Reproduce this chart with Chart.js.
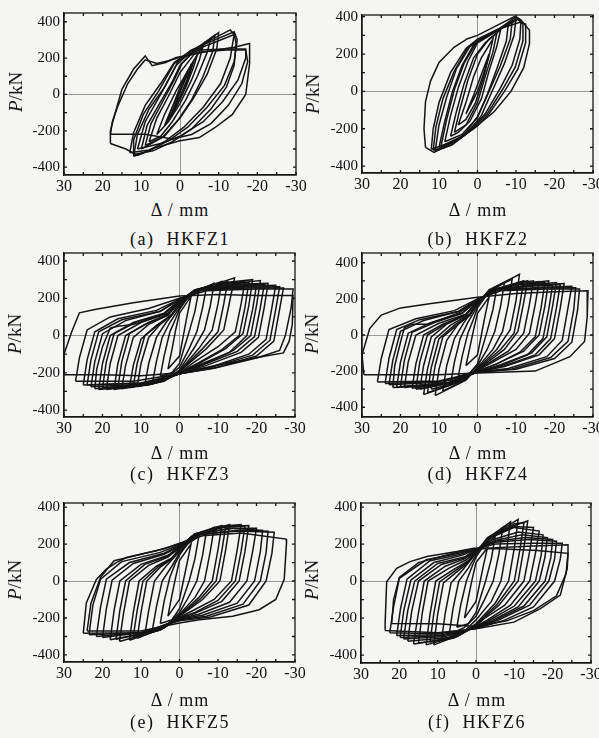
<!DOCTYPE html>
<html>
<head>
<meta charset="utf-8">
<script src="https://cdn.jsdelivr.net/npm/chart.js@4.4.1/dist/chart.umd.min.js"></script>
<style>
  body { margin: 0; background: #f5f5f4; width: 599px; height: 738px; position: relative; overflow: hidden;
         font-family: "Liberation Serif", "Times New Roman", serif; color: #111; }
  canvas { position: absolute; }
  .lbl { position: absolute; white-space: pre; transform: translate(-50%, -50%); }
  .ylab { font-size: 19px; transform: translate(-50%, -50%) rotate(-90deg); }
  .xlab { font-size: 18px; letter-spacing: 1px; }
  .cap { font-size: 18px; letter-spacing: 1.5px; }
</style>
</head>
<body>
<script>
const specimens = ['HKFZ1', 'HKFZ2', 'HKFZ3', 'HKFZ4', 'HKFZ5', 'HKFZ6'];
const letters = ['a', 'b', 'c', 'd', 'e', 'f'];
const xTicks = [30, 20, 10, 0, -10, -20, -30];
const yTicks = [400, 200, 0, -200, -400];

// hysteresis loops, [displacement mm, load kN]
const hkfz1 = [
  [[2.5,-120],[1,-40],[-1,70],[-3,170],[-2,90],[0,-10],[1.5,-80],[2.5,-120]],
  [[3.5,-150],[2,-70],[0,20],[-2,110],[-3.5,180],[-2.5,110],[-1,20],[1,-70],[3.5,-150]],
  [[4,-170],[2,-70],[0,40],[-2,130],[-4.5,220],[-3.5,150],[-1.5,40],[1,-70],[4,-170]],
  [[6,-220],[4,-110],[1,20],[-2,130],[-6,270],[-5,190],[-3,80],[0,-50],[3,-150],[6,-220]],
  [[8,-260],[6,-130],[3,-10],[0,120],[-4,230],[-8,310],[-7,230],[-4.5,100],[-1.5,-30],[2,-150],[5,-230],[8,-260]],
  [[9,-280],[7.5,-160],[4.5,-40],[1.5,80],[-0.5,170],[-4.5,255],[-9,325],[-8.5,240],[-6,100],[-3,-30],[0.5,-140],[4.5,-235],[9,-280]],
  [[10,-300],[8.5,-170],[5,-40],[2,70],[0,160],[-4,250],[-10,340],[-9.5,250],[-7,110],[-3.5,-20],[0,-130],[4,-230],[10,-300]],
  [[12,-340],[11,-220],[8,-80],[4,40],[1,160],[-3,240],[-8,300],[-13,355],[-14,330],[-13,200],[-10.5,60],[-6,-70],[-1,-180],[4,-260],[8,-310],[12,-340]],
  [[13,-320],[12,-210],[9,-60],[5,60],[1.5,175],[-3,245],[-9,300],[-14,345],[-14.8,300],[-14,180],[-11.5,50],[-7,-70],[-2,-180],[3,-255],[8,-305],[13,-320]],
  [[12,-330],[12,-250],[9.5,-110],[5.5,20],[1.5,170],[-4,245],[-10,295],[-14,330],[-14.5,280],[-14,160],[-12,40],[-8,-80],[-3,-190],[2,-260],[7,-310],[12,-330]],
  [[11,-300],[9,-150],[5,0],[2,120],[0,200],[-5,245],[-12,250],[-17,250],[-17,200],[-15,80],[-11,-40],[-6,-150],[0,-230],[5,-270],[11,-300]],
  [[18,-270],[18,-200],[17,-120],[15,30],[12,140],[9,212],[7.2,158],[3.7,176],[1,203],[-2,215],[-8,240],[-14,260],[-18,280],[-18,170],[-17,0],[-13.5,-111],[-9,-183],[-5,-237],[0,-255],[6,-290],[11,-335],[14,-300],[18,-270]],
  [[18,-219],[17.5,-150],[16,-60],[13.5,60],[11,140],[9,190],[6,170],[3,185],[0,205],[-6,235],[-12,245],[-17,245],[-17.5,180],[-16,60],[-12.5,-60],[-8,-160],[-3,-220],[2,-245],[9,-219],[18,-219]]
];
const hkfz2 = [
  [[3,-120],[1,-20],[-1,90],[-3,200],[-2,120],[0,0],[2,-80],[3,-120]],
  [[5,-180],[3,-60],[1,80],[-1,180],[-4,280],[-3,190],[-1.5,70],[0.5,-60],[3,-150],[5,-180]],
  [[6,-220],[4.5,-90],[2.5,60],[0,200],[-3,280],[-5,310],[-4,210],[-2,80],[0,-60],[3,-180],[6,-220]],
  [[7,-240],[5.5,-110],[3.5,40],[1,180],[-2,260],[-6,330],[-5,240],[-3,110],[-1,-40],[2,-160],[5,-220],[7,-240]],
  [[8.5,-270],[7,-130],[5,20],[2.5,160],[0,260],[-4,310],[-8,360],[-7.5,270],[-5,120],[-2.5,-20],[0,-140],[4,-230],[8.5,-270]],
  [[9.5,-295],[8,-150],[6,10],[3.5,150],[0.5,255],[-3,305],[-9,375],[-8.5,280],[-6,140],[-3,0],[0,-135],[3.5,-235],[9.5,-295]],
  [[10,-300],[8.5,-160],[6.5,0],[4,140],[1,250],[-3,300],[-8,360],[-10,390],[-9.5,300],[-7,150],[-4,10],[-1,-130],[3,-230],[7,-280],[10,-300]],
  [[11,-320],[10,-180],[8,-30],[5.5,120],[2,240],[-2,290],[-6,340],[-10,400],[-11.3,382],[-11,280],[-9,140],[-6,20],[-2,-120],[2,-210],[7,-290],[11,-320]],
  [[11.5,-315],[10.8,-190],[9,-40],[6,110],[2.5,235],[-1,285],[-6,335],[-10.5,385],[-11.8,360],[-11.8,270],[-9.8,130],[-6.5,10],[-2.5,-120],[1.5,-205],[6.5,-285],[11.5,-315]],
  [[12,-310],[11.5,-200],[10,-60],[7,100],[3,230],[0,280],[-5,330],[-11,370],[-12.5,360],[-12.5,260],[-10.5,120],[-7,0],[-3,-120],[0,-185],[5,-260],[12,-310]],
  [[13.5,-300],[13.9,-200],[13.5,-55],[12.2,55],[10,155],[6.1,236],[2.6,282],[0,300],[-5.2,355],[-9.6,400],[-11.3,382],[-13.5,327],[-13.5,255],[-12,127],[-8.7,0],[-4.3,-109],[0,-182],[5.2,-255],[9.6,-309],[11.3,-327],[13.5,-300]]
];
const hkfz3 = [
  [[3,-180],[2,-80],[1,30],[0,120],[-3,210],[-2,110],[-1,0],[0,-110],[3,-180]],
  [[5,-220],[4,-110],[2.5,20],[1,90],[0,140],[-2,200],[-5,240],[-4,130],[-2.5,20],[-1,-80],[0,-150],[2,-200],[5,-220]],
  [[7,-250],[6,-140],[4.5,-10],[2.5,70],[0,150],[-3,220],[-7,260],[-6,150],[-4.5,20],[-2.5,-70],[0,-170],[3,-220],[7,-250]],
  [[9,-265],[8,-150],[6,-10],[3.5,70],[0,160],[-3,225],[-9,280],[-8,160],[-6.5,30],[-4,-60],[0,-185],[3,-230],[9,-265]],
  [[11,-275],[10,-150],[8,-10],[5,60],[2,110],[0,170],[-3,230],[-11,290],[-10,170],[-8.5,30],[-5,-70],[0,-190],[4,-240],[11,-275]],
  [[12,-270],[11,-150],[9,0],[5,65],[2,115],[0,172],[-4,235],[-12.5,290],[-11.5,170],[-10,20],[-6,-70],[0,-192],[4,-242],[12,-270]],
  [[13,-280],[12,-160],[10,-20],[6,55],[2,110],[0,175],[-4,240],[-14.3,310],[-13,180],[-11.5,30],[-7,-70],[-3,-140],[0,-195],[4,-245],[13,-280]],
  [[15,-285],[14,-160],[12,-10],[8,60],[3,110],[0,180],[-4,245],[-10,280],[-17,290],[-16,170],[-14.5,20],[-10,-60],[-4,-140],[0,-200],[5,-250],[15,-285]],
  [[16,-280],[15,-140],[13,10],[8,70],[3,115],[0,183],[-4,245],[-11,275],[-18,285],[-17,150],[-15.5,0],[-11,-75],[-5,-145],[0,-200],[6,-250],[16,-280]],
  [[17,-290],[16,-150],[14,0],[9,60],[3,110],[0,185],[-4,245],[-12,285],[-19,300],[-18,160],[-16.5,10],[-12,-70],[-5,-150],[0,-200],[6,-255],[17,-290]],
  [[19,-290],[18,-150],[16,0],[10,70],[3,120],[0,190],[-5,250],[-14,280],[-21,295],[-20,160],[-18.5,0],[-14,-80],[-6,-155],[0,-205],[7,-260],[19,-290]],
  [[20,-280],[19,-140],[17,10],[11,75],[3,120],[0,188],[-5,245],[-14,270],[-22,275],[-21,150],[-19.5,-5],[-15,-85],[-6,-158],[0,-203],[7,-258],[20,-280]],
  [[21,-290],[20,-150],[18,0],[12,70],[4,120],[0,190],[-5,250],[-15,275],[-23,280],[-22,150],[-20.5,-10],[-16,-90],[-7,-160],[0,-205],[8,-265],[21,-290]],
  [[22,-285],[21.5,-180],[20,-60],[18,40],[16,50],[12,60],[4,115],[0,186],[-5,248],[-14,265],[-20,270],[-19,140],[-17.5,0],[-13,-90],[-6,-150],[0,-200],[8,-262],[22,-285]],
  [[23,-275],[22,-140],[20,10],[14,80],[5,130],[0,195],[-6,250],[-17,265],[-25,270],[-24,150],[-22.5,-20],[-18,-100],[-8,-170],[0,-205],[9,-260],[23,-275]],
  [[24,-265],[23,-130],[21,20],[15,85],[5,130],[0,193],[-6,245],[-17,260],[-26,262],[-25,140],[-23.5,-25],[-19,-105],[-8,-172],[0,-205],[9,-255],[24,-265]],
  [[25,-265],[24,-130],[22,20],[16,90],[6,135],[0,195],[-6,245],[-18,255],[-27,255],[-26,140],[-24.5,-30],[-20,-110],[-9,-175],[0,-205],[10,-255],[25,-265]],
  [[27,-245],[26,-120],[24,30],[18,100],[8,145],[0,200],[-7,240],[-20,250],[-29.5,250],[-29,150],[-27.5,0],[-26,-80],[-20,-120],[-10,-170],[0,-205],[12,-245],[27,-245]],
  [[30,-210],[30,-100],[28,20],[26,122],[22,140],[12,176],[0,212],[-10,220],[-20,215],[-29.5,215],[-29.3,60],[-28.5,-30],[-27,-93],[-22,-111],[-12,-150],[0,-200],[10,-215],[20,-210],[30,-210]]
];
const hkfz4 = [
  [[3,-170],[2,-70],[1,30],[0,120],[-3,210],[-2,110],[-1,0],[0,-110],[3,-170]],
  [[5,-230],[4,-120],[2.5,10],[1,90],[0,150],[-2,210],[-5,260],[-4,140],[-2.5,20],[-1,-90],[0,-160],[2,-210],[5,-230]],
  [[7,-270],[6,-150],[4.5,-20],[2.5,70],[0,160],[-3,240],[-7,290],[-6,160],[-4.5,20],[-2.5,-80],[0,-170],[3,-230],[7,-270]],
  [[9,-310],[8,-170],[6,-20],[3.5,70],[0,170],[-3,245],[-9,310],[-8,170],[-6.5,20],[-4,-80],[0,-180],[3,-250],[9,-310]],
  [[11,-336],[10,-190],[8,-30],[5,60],[2,110],[0,175],[-3,250],[-10.9,336],[-10,190],[-8.5,30],[-5,-80],[0,-185],[4,-260],[11,-336]],
  [[12,-300],[11,-170],[9,-10],[5,60],[2,115],[0,178],[-4,250],[-12,300],[-11,170],[-9.5,10],[-6,-80],[0,-188],[4,-255],[12,-300]],
  [[13,-320],[12,-180],[10,-20],[6,55],[2,110],[0,180],[-4,250],[-13,300],[-12,180],[-10.5,20],[-7,-80],[-3,-145],[0,-190],[4,-255],[13,-320]],
  [[14,-330],[13,-190],[11,-20],[7,55],[2,115],[0,182],[-4,250],[-11,290],[-14.5,300],[-13.5,170],[-12,10],[-8,-90],[-3,-155],[0,-192],[5,-262],[14,-330]],
  [[15,-300],[14,-170],[12,-10],[8,60],[3,110],[0,185],[-4,250],[-10,280],[-16,295],[-15,170],[-13.5,10],[-10,-80],[-4,-150],[0,-195],[5,-255],[15,-300]],
  [[16,-300],[15,-150],[13,0],[8,65],[3,115],[0,185],[-4,250],[-11,280],[-17.5,290],[-16.5,150],[-15,-10],[-11,-95],[-5,-160],[0,-200],[6,-262],[16,-300]],
  [[17,-295],[16,-160],[14,0],[9,60],[3,110],[0,190],[-4,250],[-12,285],[-18.5,300],[-17.5,160],[-16,0],[-12,-90],[-5,-160],[0,-200],[6,-260],[17,-295]],
  [[19,-290],[18,-150],[16,0],[10,65],[3,115],[0,190],[-5,250],[-14,280],[-20.5,290],[-19.5,160],[-18,-10],[-14,-100],[-6,-165],[0,-205],[7,-265],[19,-290]],
  [[20,-285],[19,-140],[17,15],[11,70],[4,120],[0,192],[-5,250],[-14,275],[-21.5,280],[-20.5,150],[-19,-20],[-15,-110],[-7,-170],[0,-205],[8,-268],[20,-285]],
  [[21,-290],[20,-150],[18,10],[12,70],[4,120],[0,195],[-5,250],[-15,275],[-22.5,285],[-21.5,150],[-20,-20],[-16,-110],[-7,-175],[0,-205],[8,-265],[21,-290]],
  [[22,-290],[21.5,-170],[20,-40],[19,40],[17,60],[13,60],[5,120],[0,190],[-5,250],[-13,270],[-19.5,275],[-18.5,140],[-17,-20],[-13,-110],[-6,-170],[0,-205],[8,-270],[22,-290]],
  [[23,-275],[22,-140],[20,20],[14,80],[5,130],[0,195],[-6,250],[-17,265],[-24.5,270],[-23.5,150],[-22,-30],[-18,-120],[-8,-185],[0,-205],[9,-260],[23,-275]],
  [[24,-268],[23,-130],[21,30],[15,85],[5,130],[0,198],[-6,248],[-17,260],[-25.5,262],[-25,140],[-23.5,-35],[-19,-125],[-9,-188],[0,-207],[10,-258],[24,-268]],
  [[26,-260],[25,-130],[23,30],[16,90],[6,135],[0,200],[-6,245],[-18,255],[-26.5,255],[-26,140],[-24.5,-40],[-20,-130],[-10,-190],[0,-205],[10,-255],[26,-260]],
  [[29.5,-220],[30,-110],[28,36],[25,110],[20,150],[12,175],[0,209],[-10,230],[-20,240],[-28.7,245],[-28.5,100],[-27.8,-36],[-24,-120],[-15,-200],[0,-210],[10,-220],[20,-220],[29.5,-220]]
];
const hkfz5 = [
  [[3,-190],[2,-80],[1,20],[0,110],[-3,200],[-2,100],[-1,0],[0,-100],[3,-190]],
  [[5,-230],[4,-110],[2.5,20],[1,100],[0,140],[-2,200],[-5,240],[-4,120],[-2.5,0],[-1,-90],[0,-150],[2,-210],[5,-230]],
  [[7,-260],[6,-140],[4.5,0],[2,80],[0,150],[-3,220],[-7,270],[-6,140],[-4.5,0],[-2,-100],[0,-170],[3,-230],[7,-260]],
  [[9,-290],[8,-160],[6.5,0],[3.5,80],[0,160],[-3,230],[-9,290],[-8,160],[-6.5,0],[-4,-90],[0,-180],[3,-240],[9,-290]],
  [[11,-310],[10,-170],[8.5,0],[5,75],[2,120],[0,170],[-3,240],[-11,300],[-10,170],[-8.5,0],[-5,-90],[0,-185],[4,-250],[11,-310]],
  [[12,-300],[11,-160],[9.5,0],[5.5,78],[2,120],[0,172],[-3.5,245],[-12,295],[-11,165],[-9.5,0],[-5.5,-95],[0,-188],[4,-250],[12,-300]],
  [[13,-320],[12,-170],[10.5,0],[6,80],[2,125],[0,175],[-4,250],[-13,305],[-12,170],[-10.5,0],[-6,-100],[-2,-160],[0,-190],[4,-255],[13,-320]],
  [[15.6,-327],[14.5,-170],[13,0],[8,85],[3,130],[0,180],[-4,255],[-10,295],[-16,305],[-15,170],[-13.5,0],[-9,-100],[-3,-165],[0,-195],[5,-265],[15.6,-327]],
  [[16.5,-315],[15.5,-160],[14,0],[9,90],[3,135],[0,182],[-4,255],[-11,290],[-17,298],[-16,160],[-14.5,0],[-10,-105],[-4,-170],[0,-198],[5,-265],[16.5,-315]],
  [[18,-318],[17,-160],[15.5,0],[10,90],[3,140],[0,185],[-4,255],[-12,295],[-18,300],[-17,160],[-15.5,0],[-11,-110],[-4,-175],[0,-200],[6,-270],[18,-318]],
  [[20,-305],[19,-150],[17.5,5],[12,95],[4,145],[0,188],[-5,255],[-13,285],[-20,285],[-19,160],[-17.5,0],[-13,-115],[-5,-180],[0,-203],[7,-272],[20,-305]],
  [[21.6,-300],[20.5,-140],[19,10],[13,100],[4,150],[0,190],[-5,255],[-14,285],[-21.6,273],[-21,160],[-19.5,0],[-15,-120],[-6,-185],[0,-205],[8,-275],[21.6,-300]],
  [[23.5,-290],[22.5,-130],[20.5,10],[15,105],[5,155],[0,195],[-5,250],[-15,275],[-23,270],[-22.5,155],[-21,0],[-16.5,-125],[-7,-190],[0,-210],[9,-278],[23.5,-290]],
  [[25,-282],[24.2,-118],[21.6,9],[19,64],[16.4,100],[13.8,127],[6,164],[0,200],[-5,250],[-15,270],[-24.6,264],[-24,150],[-22.5,0],[-18,-130],[-8,-195],[0,-215],[10,-280],[25,-282]],
  [[24,-270],[23,-120],[20.5,20],[17,110],[14,125],[9,150],[4,175],[0,205],[-6,245],[-16,260],[-27.7,227],[-27.8,209],[-27.2,9],[-25,-100],[-20.7,-155],[-13.8,-191],[-5.2,-209],[0,-227],[10,-270],[24,-270]]
];
const hkfz6 = [
  [[3,-200],[2,-90],[1,10],[0,100],[-3,180],[-2,90],[-1,-10],[0,-110],[3,-200]],
  [[5,-250],[4,-130],[2.5,0],[1,80],[0,130],[-2,190],[-5,240],[-4,120],[-2.5,0],[-1,-100],[0,-170],[2,-230],[5,-250]],
  [[7,-290],[6,-150],[4.5,0],[2,70],[0,140],[-3,220],[-7,290],[-6,150],[-4.5,0],[-2,-110],[0,-190],[3,-250],[7,-290]],
  [[9,-320],[8,-170],[6.5,-10],[3.5,60],[0,150],[-3,230],[-9,320],[-8,170],[-6.5,0],[-4,-110],[0,-210],[3,-270],[9,-320]],
  [[11,-345],[10,-180],[8.5,-10],[5,50],[2,100],[0,155],[-3,235],[-11,333],[-10,180],[-8.5,0],[-5,-120],[0,-230],[4,-290],[11,-345]],
  [[12,-330],[11,-175],[9.5,-5],[5.5,55],[2,105],[0,157],[-3.5,238],[-10,310],[-12.5,315],[-11.5,175],[-10,0],[-5.5,-125],[0,-235],[4.5,-295],[12,-330]],
  [[13,-345],[12,-180],[10.5,0],[6,60],[2,110],[0,160],[-4,240],[-10,300],[-13.5,325],[-12.5,180],[-11,0],[-6,-130],[-2,-200],[0,-240],[5,-300],[13,-345]],
  [[15,-335],[14,-170],[12.5,0],[7,70],[2.5,115],[0,162],[-4,238],[-10,295],[-15,290],[-14,160],[-12.5,0],[-7.5,-130],[-2,-205],[0,-242],[5.5,-305],[15,-335]],
  [[16.3,-340],[15,-170],[13.5,0],[8,80],[3,120],[0,165],[-4,235],[-10,290],[-16.5,270],[-15.5,150],[-14,0],[-9,-130],[-3,-210],[0,-245],[6,-310],[16.3,-340]],
  [[17.8,-325],[16.8,-165],[15,0],[9,90],[3,125],[0,168],[-4.5,225],[-11,265],[-17.5,250],[-17,140],[-15.5,0],[-10,-135],[-3.5,-212],[0,-248],[7,-305],[17.8,-325]],
  [[18.9,-313],[17.8,-160],[16,0],[10,95],[3,130],[0,170],[-5,220],[-12,250],[-18.6,235],[-18,130],[-16.5,0],[-11,-140],[-4,-215],[0,-250],[8,-300],[18.9,-313]],
  [[19.8,-305],[18.8,-155],[17,5],[11,100],[3.5,140],[0,171],[-5,215],[-13,235],[-20,225],[-19.5,125],[-18,0],[-12.5,-135],[-5,-212],[0,-252],[8.5,-295],[19.8,-305]],
  [[20.7,-295],[19.7,-150],[18,10],[12,110],[4,145],[0,172],[-5,210],[-14,225],[-21,215],[-20.5,120],[-19,0],[-14,-130],[-6,-210],[0,-255],[9,-290],[20.7,-295]],
  [[22.5,-280],[21.5,-140],[20,15],[13,115],[4.5,150],[0,174],[-5,200],[-15,205],[-22.5,205],[-22,120],[-20.5,0],[-15,-140],[-7,-215],[0,-256],[10,-285],[22.5,-280]],
  [[23.7,-267],[23.7,-222],[23.3,-4],[20.7,69],[17.2,105],[12.8,133],[5,160],[0.6,178],[-5,180],[-15,190],[-24,196],[-24,151],[-23.8,69],[-22,-76],[-16.8,-149],[-9.9,-222],[0,-258],[10,-280],[23.7,-267]],
  [[22,-230],[21.5,-100],[20,20],[15,100],[6,150],[0,175],[-6,175],[-16,165],[-24,150],[-23.5,40],[-21,-80],[-15,-160],[-8,-215],[0,-245],[10,-231],[22,-230]]
];
const allLoops = [hkfz1, hkfz2, hkfz3, hkfz4, hkfz5, hkfz6];

// panel placement: canvas box, plot area edges, y range, label centres
const panels = [
  { left: 0,   top: 0,   L: 64,  R: 296, T: 9,   B: 175, ymin: -443, ymax: 448, yl: [16, 92],  xl: [180, 210], cap: [180, 239] },
  { left: 300, top: 0,   L: 362, R: 593, T: 15,  B: 173, ymin: -437, ymax: 409, yl: [313, 94], xl: [478, 210], cap: [478, 239] },
  { left: 0,   top: 240, L: 64,  R: 295, T: 252, B: 417, ymin: -437, ymax: 443, yl: [15, 334], xl: [180, 453], cap: [180, 474] },
  { left: 300, top: 240, L: 362, R: 593, T: 250, B: 417, ymin: -454, ymax: 454, yl: [312, 334], xl: [478, 453], cap: [478, 474] },
  { left: 0,   top: 485, L: 64,  R: 295, T: 503, B: 662, ymin: -438, ymax: 422, yl: [15, 580], xl: [180, 700], cap: [180, 722] },
  { left: 300, top: 485, L: 361, R: 591, T: 503, B: 663, ymin: -443, ymax: 422, yl: [312, 580], xl: [477, 700], cap: [477, 722] }
];

Chart.defaults.font.family = '"Liberation Serif", "Times New Roman", serif';
Chart.defaults.color = '#111';

const frame = {
  id: 'frame',
  afterDatasetsDraw(chart) {
    const { ctx, chartArea: a, scales: { x, y } } = chart;
    ctx.save();
    ctx.strokeStyle = '#161616';
    ctx.lineWidth = 1.3;
    ctx.strokeRect(a.left, a.top, a.right - a.left, a.bottom - a.top);
    ctx.beginPath();
    for (let v = -30; v <= 30; v += 5) {
      const px = x.getPixelForValue(v);
      ctx.moveTo(px, a.bottom); ctx.lineTo(px, a.bottom - 3);
      ctx.moveTo(px, a.top); ctx.lineTo(px, a.top + 3);
    }
    for (let v = -400; v <= 400; v += 100) {
      const py = y.getPixelForValue(v);
      ctx.moveTo(a.left, py); ctx.lineTo(a.left + 3, py);
      ctx.moveTo(a.right, py); ctx.lineTo(a.right - 3, py);
    }
    ctx.stroke();
    ctx.restore();
  }
};

function addLabel(cls, html, pos) {
  const d = document.createElement('div');
  d.className = 'lbl ' + cls;
  d.innerHTML = html;
  d.style.left = pos[0] + 'px';
  d.style.top = pos[1] + 'px';
  document.body.appendChild(d);
}

const zeroLine = ctx => (ctx.tick && ctx.tick.value === 0) ? '#8c8c8c' : 'rgba(0,0,0,0)';

panels.forEach((p, i) => {
  const W = 320, H = p.B - p.top + 24;
  const cv = document.createElement('canvas');
  cv.width = W; cv.height = H;
  cv.style.left = p.left + 'px';
  cv.style.top = p.top + 'px';
  document.body.appendChild(cv);

  new Chart(cv, {
    type: 'scatter',
    data: {
      datasets: allLoops[i].map(loop => ({
        data: loop.map(([x, y]) => ({ x, y })),
        showLine: true,
        borderColor: '#141414',
        borderWidth: 1.5,
        pointRadius: 0,
        tension: 0,
        fill: false
      }))
    },
    options: {
      responsive: false,
      animation: false,
      devicePixelRatio: 1,
      layout: { padding: { top: p.T - p.top, right: p.left + W - p.R, left: 0, bottom: 0 } },
      plugins: { legend: { display: false }, tooltip: { enabled: false } },
      scales: {
        x: {
          type: 'linear', reverse: true, min: -30, max: 30,
          afterBuildTicks: s => { s.ticks = xTicks.map(v => ({ value: v })); },
          afterFit: s => { s.height = 24; },
          ticks: { autoSkip: false, maxRotation: 0, padding: 2, font: { size: 16 }, callback: v => String(v) },
          grid: { color: zeroLine, lineWidth: 0.9, drawTicks: false },
          border: { display: true, color: '#161616', width: 1.3 }
        },
        y: {
          type: 'linear', min: p.ymin, max: p.ymax,
          afterBuildTicks: s => { s.ticks = yTicks.map(v => ({ value: v })); },
          afterFit: s => { s.width = p.L - p.left; },
          ticks: { autoSkip: false, padding: 4, font: { size: 15 }, callback: v => String(v) },
          grid: { color: zeroLine, lineWidth: 0.9, drawTicks: false },
          border: { display: true, color: '#161616', width: 1.3 }
        }
      }
    },
    plugins: [frame]
  });

  addLabel('ylab', '<i>P</i>/kN', p.yl);
  addLabel('xlab', 'Δ / mm', p.xl);
  addLabel('cap', '(' + letters[i] + ')  ' + specimens[i], p.cap);
});
</script>
</body>
</html>
